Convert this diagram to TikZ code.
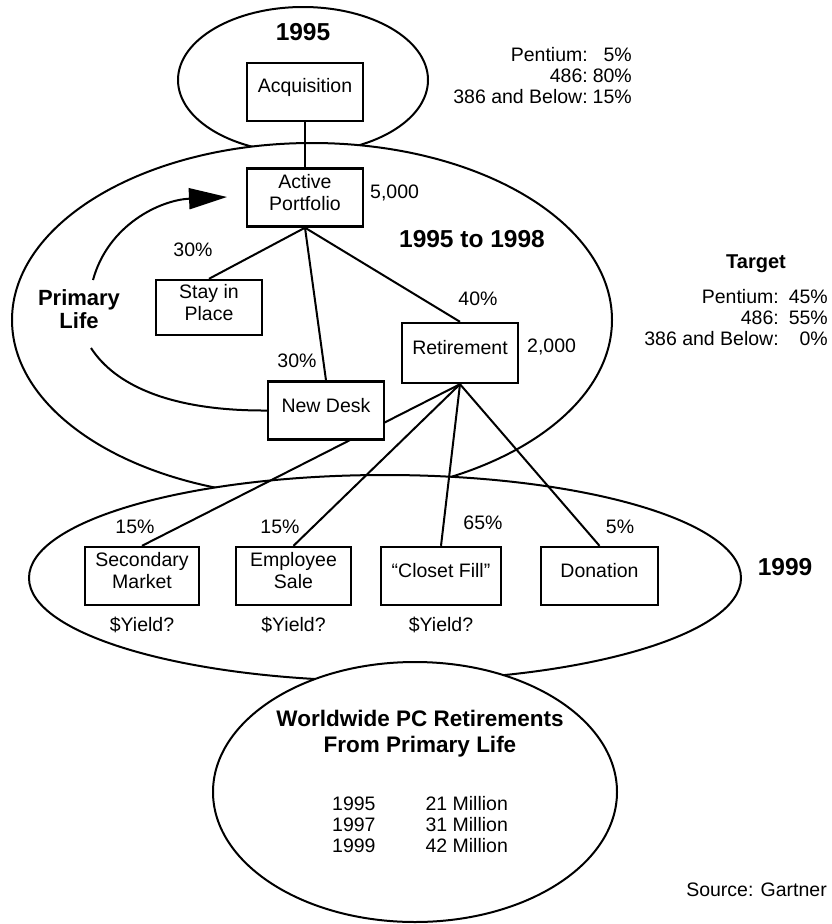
\documentclass[tikz,border=0pt]{standalone}
\usepackage{fontspec}
\setmainfont{Liberation Sans}
\usetikzlibrary{arrows.meta}
\pgfdeclarelayer{rings}
\pgfdeclarelayer{links}
\pgfsetlayers{rings,links,main}

\begin{document}
\begin{tikzpicture}[x=1pt,y=-1pt,
  ring/.style={draw, fill=white, line width=2pt},
  box/.style={draw, fill=white, line width=2.4pt, inner sep=0pt,
              minimum width=116pt, minimum height=58pt},
  boxtext/.style={align=center, yshift=5pt, inner sep=0pt,
                  font=\fontsize{19.5}{22}\selectfont},
  txt/.style={inner sep=0pt, font=\fontsize{19.5}{21}\selectfont},
  hd/.style={inner sep=0pt, font=\bfseries\fontsize{24.5}{27}\selectfont},
  link/.style={line width=2pt},
]
\useasboundingbox (0,0) rectangle (831,924);

% ---- boxes ----
\node[box] (acq) at (305,92) {};
\node[boxtext] (acqt) at (acq) {Acquisition};
\node[box] (ap) at (305,197.5) {};
\node[boxtext] (apt) at (ap) {Active\\Portfolio};
\node[box, minimum width=106pt, minimum height=55pt] (stay) at (209,307.5) {};
\node[boxtext] (stayt) at (stay) {Stay in\\Place};
\node[box] (nd) at (326,410.5) {};
\node[boxtext] (ndt) at (nd) {New Desk};
\node[box, minimum height=60pt] (ret) at (460,353) {};
\node[boxtext] (rett) at (ret) {Retirement};

\node[box, minimum width=114pt] (sm) at (142,576) {};
\node[boxtext] (smt) at (sm) {Secondary\\Market};
\node[box, minimum width=115pt] (es) at (293.5,576) {};
\node[boxtext] (est) at (es) {Employee\\Sale};
\node[box, minimum width=120pt] (cf) at (441,576) {};
\node[boxtext] (cft) at (cf) {“Closet Fill”};
\node[box, minimum width=117pt] (don) at (599.5,576) {};
\node[boxtext] (dont) at (don) {Donation};

% ---- overlapping period ellipses ----
\begin{pgfonlayer}{rings}
\draw[ring] (303,80) ellipse [x radius=125, y radius=73];
\draw[ring] (312,320) ellipse [x radius=300, y radius=177];
\draw[ring] (385,578) ellipse [x radius=356, y radius=103];
\draw[ring] (415,792) ellipse [x radius=202, y radius=130];
\end{pgfonlayer}

% ---- connectors ----
\coordinate (loopstart) at (93,280);
\coordinate (looptip) at (227,197);
\coordinate (loopback) at (91,348);
\begin{pgfonlayer}{links}
\draw[link] (acq) -- (ap);
\draw[link] (ap.south) -- (stay.north);
\draw[link] (ap.south) -- (nd.north);
\draw[link] (ap.south) -- (ret.north);
\draw[link] (ret.south) -- (sm.north);
\draw[link] (ret.south) -- (es.north);
\draw[link] (ret.south) -- (cf.north);
\draw[link] (ret.south) -- (don.north);
\draw[link, -{Triangle[length=38pt, width=21pt]}]
  (loopstart) .. controls (108,225) and (160,200) .. (looptip);
\draw[link] (loopback) .. controls (115,385) and (170,411) .. (nd.west);
\end{pgfonlayer}

% ---- headings ----
\node[hd] (h95) at (303,32) {1995};
\node[hd] (h9598) at (472,239) {1995 to 1998};
\node[hd] (h99) at (785,567) {1999};
\node[inner sep=0pt, align=center, font=\bfseries\fontsize{22}{23.5}\selectfont]
  (plife) at (79,309) {Primary\\Life};

% ---- figures ----
\node[txt, anchor=west] (n5000) at (370,193) {5,000};
\node[txt, anchor=west] (n2000) at (527,347) {2,000};
\node[txt] (pstay) at (193,250) {30\%};
\node[txt] (pnd) at (297,361) {30\%};
\node[txt] (pret) at (478,299) {40\%};
\node[txt] (psm) at (135,527) {15\%};
\node[txt] (pes) at (280,527) {15\%};
\node[txt] (pcf) at (483,523) {65\%};
\node[txt] (pdon) at (620,527) {5\%};
\node[txt] (ysm) at (142,625) {\$Yield?};
\node[txt] (yes) at (293.5,625) {\$Yield?};
\node[txt] (ycf) at (441,625) {\$Yield?};

% ---- processor mixes ----
\node[txt, anchor=east] (mix95) at (632,78) {%
  \begin{tabular}{@{}r@{\hspace{5pt}}r@{}}
  Pentium: & 5\%\\ 486: & 80\%\\ 386 and Below: & 15\%
  \end{tabular}};
\node[inner sep=0pt, font=\bfseries\fontsize{20}{22}\selectfont] (target) at (756,264) {Target};
\node[txt, anchor=east] (mixtgt) at (828,320) {%
  \begin{tabular}{@{}r@{\hspace{10pt}}r@{}}
  Pentium: & 45\%\\ 486: & 55\%\\ 386 and Below: & 0\%
  \end{tabular}};

% ---- worldwide retirements ----
\node[inner sep=0pt, align=center, font=\bfseries\fontsize{22.5}{26}\selectfont]
  (ww) at (420,734) {Worldwide PC Retirements\\From Primary Life};
\node[txt, anchor=west] (wwtab) at (332,827) {%
  \begin{tabular}{@{}l@{\hspace{50pt}}l@{}}
  1995 & 21 Million\\ 1997 & 31 Million\\ 1999 & 42 Million
  \end{tabular}};
\node[txt, anchor=east] (src) at (827,890) {Source: Gartner};
\end{tikzpicture}
\end{document}
